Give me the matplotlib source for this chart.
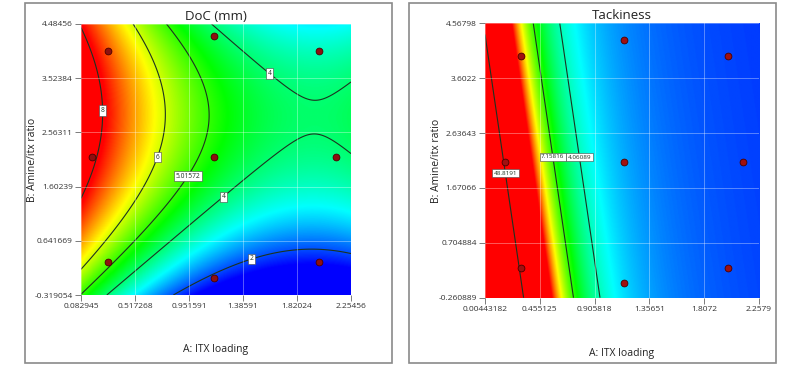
import numpy as np
import matplotlib
matplotlib.use("Agg")
import matplotlib.pyplot as plt
from matplotlib.colors import LinearSegmentedColormap
from matplotlib.patches import Rectangle

plt.rcParams['font.family'] = ['Open Sans', 'DejaVu Sans']

# ---------------- data ----------------
doc_xticks = [0.082945, 0.517268, 0.951591, 1.38591, 1.82024, 2.25456]
doc_yticks = [-0.319054, 0.641669, 1.60239, 2.56311, 3.52384, 4.48456]
doc_levels = [2, 4, 5.01572, 6, 8]
# quadratic response-surface model:
# DoC = c0 + c1*A + c2*B + c3*A*B + c4*A^2 + c5*B^2
doc_coef = [6.14, -5.2679, 2.1604, -0.0293, 1.3635, -0.3710]

tack_xticks = [0.00443182, 0.455125, 0.905818, 1.35651, 1.8072, 2.2579]
tack_yticks = [-0.260889, 0.704884, 1.67066, 2.63643, 3.6022, 4.56798]
tack_levels = [4.06089, 7.15816, 48.8191]
# transformed model: Tackiness^-0.5 = t0 + t1*A + t2*B
tack_coef = [-0.0277, 0.562, 0.0385]

design_a = [0.30, 1.15, 2.00, 0.17, 1.15, 2.13, 0.30, 1.15, 2.00]
design_b = [4.00, 4.28, 4.00, 2.13, 2.13, 2.13, 0.27, -0.01, 0.27]

# ---------------- helpers ----------------
cmap = LinearSegmentedColormap.from_list(
    'de', ['#0000ff', '#00ffff', '#00ff00', '#ffff00', '#ff0000'])

W, H = 800, 365
fig = plt.figure(figsize=(W/100, H/100), dpi=100)


def style_axes(ax, xt, yt, title, ylab_x, xlab_y):
    ax.set_xlim(xt[0], xt[-1])
    ax.set_ylim(yt[0], yt[-1])
    ax.set_xticks(xt)
    ax.set_yticks(yt)
    ax.set_xticklabels([f'{v:g}' for v in xt])
    ax.set_yticklabels([f'{v:g}' for v in yt])
    ax.tick_params(direction='out', length=4, width=0.6, color='#666666',
                   labelsize=6, pad=2, labelcolor='#333333')
    for s in ax.spines.values():
        s.set_visible(False)
    ax.grid(True, color='white', alpha=0.35, lw=0.7)
    ax.set_axisbelow(False)
    ax.set_title(title, fontsize=9.5, pad=3, color='#222222')
    ax.set_xlabel('A: ITX loading', fontsize=7.5, color='#222222')
    ax.set_ylabel('B: Amine/itx ratio', fontsize=7.5, color='#222222')
    ax.xaxis.set_label_coords(0.5, xlab_y)
    ax.yaxis.set_label_coords(ylab_x, 0.5)


def label_box(texts):
    for t in texts:
        t.set_rotation(0)
        t.set_zorder(6)
        t.set_bbox(dict(boxstyle='square,pad=0.25', fc='white', ec='#444444', lw=0.4))


# ---------------- left: DoC ----------------
ax1 = fig.add_axes([81/W, 1-295/H, 270/W, 271/H])
A = np.linspace(doc_xticks[0], doc_xticks[-1], 400)
B = np.linspace(doc_yticks[0], doc_yticks[-1], 400)
AA, BB = np.meshgrid(A, B)
Z1 = (doc_coef[0] + doc_coef[1]*AA + doc_coef[2]*BB + doc_coef[3]*AA*BB
      + doc_coef[4]*AA**2 + doc_coef[5]*BB**2)
ax1.imshow(Z1, extent=[A[0], A[-1], B[0], B[-1]], origin='lower', aspect='auto',
           cmap=cmap, vmin=1.5, vmax=7.9, interpolation='bilinear')
cs1 = ax1.contour(AA, BB, Z1, levels=doc_levels, colors='#1c3320', linewidths=0.8)
lab1 = ax1.clabel(cs1, fmt=lambda v: f'{v:g}', fontsize=4.8, inline=False,
                  manual=[(0.212, 2.95), (0.652, 2.163), (0.894, 1.855),
                          (1.194, 1.511), (1.599, 3.614), (1.438, 0.445)])
label_box(lab1)
ax1.scatter(design_a, design_b, s=24, c='#8e1010', edgecolors='#4a0000', linewidths=0.6, zorder=5)
style_axes(ax1, doc_xticks, doc_yticks, 'DoC (mm)', -0.16, -0.18)

# ---------------- right: Tackiness ----------------
ax2 = fig.add_axes([485/W, 1-297.7/H, 274/W, 274.4/H])
A2 = np.linspace(tack_xticks[0], tack_xticks[-1], 400)
B2 = np.linspace(tack_yticks[0], tack_yticks[-1], 400)
AA2, BB2 = np.meshgrid(A2, B2)
G = tack_coef[0] + tack_coef[1]*AA2 + tack_coef[2]*BB2
Z2 = 1.0/np.clip(G, 0.03, None)**2
ax2.imshow(Z2, extent=[A2[0], A2[-1], B2[0], B2[-1]], origin='lower', aspect='auto',
           cmap=cmap, vmin=-0.3, vmax=13.4, interpolation='bilinear')
cs2 = ax2.contour(AA2, BB2, Z2, levels=tack_levels, colors='#1c3320', linewidths=0.8)
lab2 = ax2.clabel(cs2, fmt=lambda v: f'{v:g}', fontsize=4.5, inline=False,
                  manual=[(0.17, 1.93), (0.56, 2.22), (0.80, 2.22)])
label_box(lab2)
ax2.scatter(design_a, design_b, s=24, c='#a01010', edgecolors='#4a0000', linewidths=0.6, zorder=5)
style_axes(ax2, tack_xticks, tack_yticks, 'Tackiness', -0.157, -0.183)

# panel frames
for x0, x1 in [(25, 392), (409, 776)]:
    fig.add_artist(Rectangle((x0/W, 2/H), (x1-x0)/W, 360/H, transform=fig.transFigure,
                             fill=False, ec='#8a8a8a', lw=1.2))

fig.savefig('out.png', dpi=100)
